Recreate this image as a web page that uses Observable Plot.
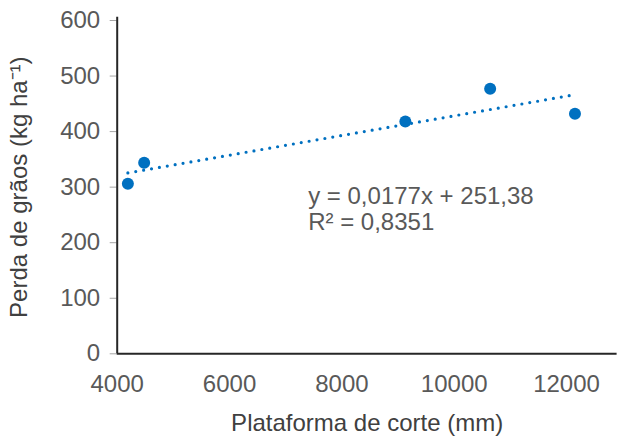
<!DOCTYPE html>
<html>
<head>
<meta charset="utf-8">
<script src="https://cdn.jsdelivr.net/npm/d3@7"></script>
<script src="https://cdn.jsdelivr.net/npm/@observablehq/plot@0.6"></script>
<style>
  html, body { margin: 0; padding: 0; background: #fff; }
  #chart svg { display: block; }
</style>
</head>
<body>
<div id="chart"></div>
<script>
// Data
const platformWidth = [4190, 4480, 9130, 10640, 12150];   // mm
const grainLoss     = [306, 344, 418, 477, 432];          // kg ha-1
const slope = 0.0177;
const intercept = 251.38;
const equationLines = ["y = 0,0177x + 251,38", "R² = 0,8351"];
const xTicks = [4000, 6000, 8000, 10000, 12000];
const yTicks = [0, 100, 200, 300, 400, 500, 600];
const xTitle = "Plataforma de corte (mm)";
const yTitle = "Perda de grãos (kg ha⁻¹)";

const points = platformWidth.map((x, i) => ({x, y: grainLoss[i]}));
const xMin = d3.min(platformWidth), xMax = d3.max(platformWidth);
const trend = [xMin, xMax].map(x => ({x, y: slope * x + intercept}));
const eqRows = [
  {x: 7400, y: 284, text: equationLines[0]},
  {x: 7400, y: 236, text: equationLines[1]}
];

const blue = "#0070C0";
const font = "'Liberation Sans', Arial, sans-serif";

const chart = Plot.plot({
  width: 618,
  height: 437,
  marginLeft: 116.7,
  marginRight: 1.4,
  marginTop: 20,
  marginBottom: 83.7,
  style: {fontFamily: font, fontSize: "24px", color: "#595959", background: "#fff"},
  x: {domain: [4000, 12900]},
  y: {domain: [0, 600]},
  marks: [
    Plot.axisY({ticks: yTicks, tickSize: 7, tickPadding: 10, stroke: "#a6a6a6", fill: "#595959",
      tickFormat: d => String(d), fontSize: 24, label: null}),
    Plot.axisY({ticks: [], tickSize: 0, label: yTitle, labelAnchor: "center", labelArrow: "none",
      labelOffset: 107, fontSize: 24, fill: "#404040"}),
    Plot.axisX({ticks: xTicks, tickSize: 0, tickPadding: 21, fill: "#595959",
      tickFormat: d => String(d), fontSize: 24, label: null}),
    Plot.axisX({ticks: [], tickSize: 0, label: xTitle, labelAnchor: "center", labelArrow: "none",
      labelOffset: 77, fontSize: 24, fill: "#404040"}),
    Plot.ruleY([0], {stroke: "#262626", strokeWidth: 2}),
    Plot.ruleX([4000], {y1: 0, y2: 606, stroke: "#262626", strokeWidth: 2}),
    Plot.line(trend, {x: "x", y: "y", stroke: blue, strokeWidth: 3.2,
      strokeDasharray: "0 8", strokeLinecap: "round"}),
    Plot.dot(points, {x: "x", y: "y", r: 6, fill: blue, stroke: "none"}),
    Plot.text(eqRows, {x: "x", y: "y", text: "text", textAnchor: "start", lineAnchor: "middle",
      fill: "#595959", fontSize: 24})
  ]
});
document.getElementById("chart").appendChild(chart);
</script>
</body>
</html>
